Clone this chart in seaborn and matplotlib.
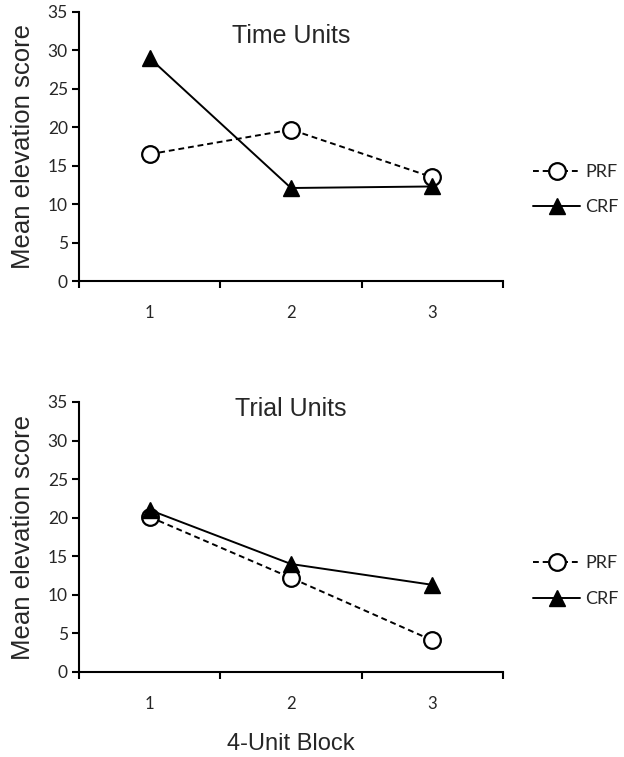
import matplotlib
matplotlib.use("Agg")
import matplotlib.pyplot as plt
import seaborn as sns
import pandas as pd
from matplotlib.lines import Line2D

sns.set_theme(style="white")
plt.rcParams['font.family'] = ['Liberation Sans', 'DejaVu Sans']

blocks = [1, 2, 3]
series = ["PRF", "CRF"]
time_prf = [16.5, 19.7, 13.5]
time_crf = [29.0, 12.1, 12.3]
trial_prf = [20.1, 12.2, 4.1]
trial_crf = [21.0, 14.0, 11.3]
panel_titles = ["Time Units", "Trial Units"]
y_ticks = [0, 5, 10, 15, 20, 25, 30, 35]

fig = plt.figure(figsize=(6.24, 7.57), dpi=100)
ax1 = fig.add_axes([79/624, 1-281/757, (503-79)/624, (281-12)/757])
ax2 = fig.add_axes([79/624, 1-672/757, (503-79)/624, (672-402)/757])

tickfont = 'Lato'
styles = {"PRF": dict(ls=(0, (3, 2)), marker='o', mfc='white', mec='black', ms=12, mew=1.6),
          "CRF": dict(ls='-', marker='^', mfc='black', mec='black', ms=12, mew=1.0)}

for ax, prf, crf, title, ty, ylegs in [(ax1, time_prf, time_crf, panel_titles[0], 0.91, (172, 207)),
                                       (ax2, trial_prf, trial_crf, panel_titles[1], 0.974, (563, 599))]:
    df = pd.DataFrame({"block": blocks * 2, "score": prf + crf,
                       "group": ["PRF"] * 3 + ["CRF"] * 3})
    for g in series:
        sub = df[df.group == g]
        sns.lineplot(data=sub, x="block", y="score", ax=ax, color='black', lw=1.4,
                     **styles[g])
    ax.set_xlim(0.5, 3.5)
    ax.set_ylim(0, 35)
    ax.set_yticks(y_ticks)
    ax.set_yticklabels([str(v) for v in y_ticks], fontsize=12.5, family=tickfont)
    ax.set_xticks([0.5, 1.5, 2.5, 3.5])
    ax.set_xticklabels([])
    ax.set_xticks(blocks, minor=True)
    ax.set_xticklabels([str(b) for b in blocks], minor=True, fontsize=12, family=tickfont)
    ax.tick_params(axis='x', which='minor', length=0, pad=17.5)
    ax.tick_params(axis='both', which='major', direction='out', length=5, width=1.5,
                   color='black', left=True, bottom=True)
    ax.tick_params(axis='y', pad=3)
    for s in ['top', 'right']:
        ax.spines[s].set_visible(False)
    for s in ['left', 'bottom']:
        ax.spines[s].set_color('black')
        ax.spines[s].set_linewidth(1.5)
    ax.set_xlabel("")
    ax.set_ylabel("Mean elevation score", fontsize=18.5, labelpad=9)
    ax.text(0.5, ty, title, transform=ax.transAxes, ha='center', va='center', fontsize=18)
    if ax.get_legend():
        ax.get_legend().remove()
    handles = [Line2D([], [], color='black', lw=1.4, **styles[g]) for g in series]
    for h, g, yp in zip(handles, series, ylegs):
        fig.legend([h], [g], loc='center left', bbox_to_anchor=(524/624, 1-yp/757),
                   frameon=False, handlelength=2.6, handletextpad=0.3,
                   prop={'family': tickfont, 'size': 13}, borderpad=0)

ax2.set_xlabel("4-Unit Block", fontsize=17, labelpad=15)

fig.savefig("out.png", dpi=100, facecolor='white')
